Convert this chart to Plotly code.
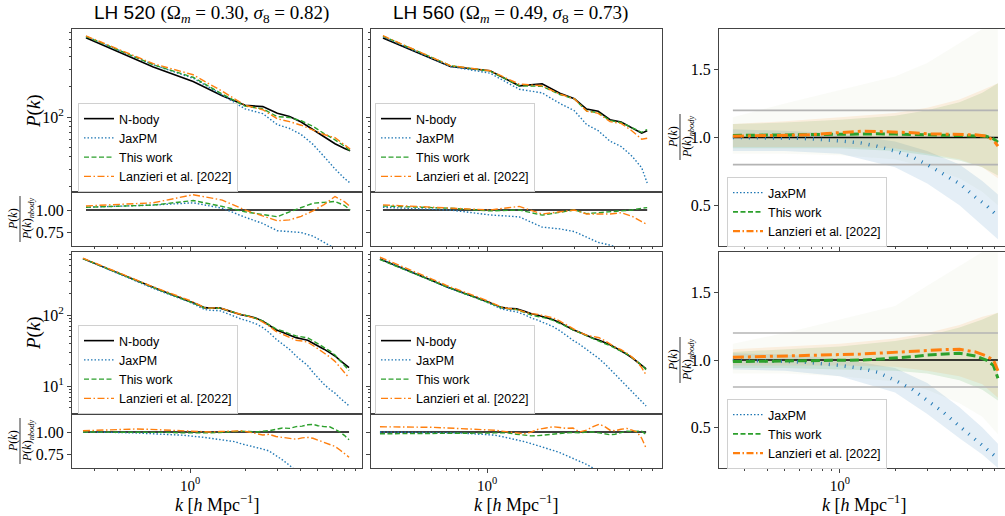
import plotly.graph_objects as go

# ---------------- data ----------------
# Top row: coarse binning
K_ROW1 = [0.27, 0.63, 1.04, 1.5, 2.0, 2.5, 3.0, 3.5, 4.05, 4.7, 5.4, 6.2, 7.0, 7.5]

P_NBODY_520_A = [620, 316, 226, 163, 131, 127, 109, 101, 89, 75, 63, 54, 48.5, 46]
R_JAXPM_520_A = [1.03, 1.055, 1.08, 1.02, 0.92, 0.85, 0.77, 0.76, 0.75, 0.71, 0.64, 0.56, 0.50, 0.476]
R_THIS_520_A = [1.03, 1.055, 1.105, 1.04, 0.98, 0.95, 0.925, 0.98, 1.03, 1.075, 1.085, 1.095, 1.05, 1.0]
R_LANZ_520_A = [1.045, 1.08, 1.17, 1.11, 1.0, 0.93, 0.88, 0.89, 0.93, 0.99, 1.06, 1.15, 1.09, 1.04]

P_NBODY_560_A = [615, 320, 290, 205, 215, 173, 152, 120, 114, 94, 89, 78, 69, 73]
R_JAXPM_560_A = [1.03, 1.0, 0.945, 0.924, 0.81, 0.79, 0.76, 0.70, 0.64, 0.61, 0.57, 0.52, 0.45, 0.30]
R_THIS_560_A = [1.045, 1.02, 0.99, 1.0, 0.943, 0.97, 1.0, 0.96, 0.97, 0.98, 0.99, 1.0, 1.02, 1.026]
R_LANZ_560_A = [1.057, 1.02, 1.0, 1.04, 0.955, 0.98, 1.0, 0.955, 0.955, 0.955, 0.97, 0.93, 0.87, 0.84]

# Bottom row: fine binning
K_ROW2 = [0.26, 0.32, 0.4, 0.5, 0.6, 0.7, 0.8, 0.9, 1.0, 1.1, 1.2, 1.3, 1.45, 1.6, 1.75, 1.9, 2.1,
          2.3, 2.5, 2.7, 2.95, 3.2, 3.5, 3.8, 4.1, 4.4, 4.7, 5.0, 5.4, 5.8, 6.2, 6.6, 7.0, 7.4]

P_NBODY_520_B = [622, 500, 393, 308, 253, 219, 193, 173, 158, 141, 127, 125, 126, 116, 106, 101, 96,
                 90, 82, 72, 62, 57, 52, 48, 46, 44, 40, 37, 33, 29.5, 26.5, 23, 20.5, 18.1]
R_JAXPM_520_B = [1.0, 1.0, 0.995, 0.99, 0.985, 0.978, 0.97, 0.965, 0.958, 0.95, 0.94, 0.93, 0.915, 0.903,
                 0.893, 0.87, 0.85, 0.83, 0.81, 0.79, 0.74, 0.69, 0.63, 0.55, 0.49, 0.44, 0.39, 0.35,
                 0.32, 0.305, 0.30, 0.295, 0.29, 0.29]
R_THIS_520_B = [1.0, 1.0, 1.0, 1.0, 1.0, 0.998, 0.995, 0.99, 0.988, 0.985, 0.988, 0.99, 0.995, 1.0,
                1.005, 1.01, 1.005, 1.0, 1.01, 1.014, 1.03, 1.045, 1.04, 1.06, 1.065, 1.08, 1.085, 1.07,
                1.06, 1.058, 1.03, 1.0, 0.96, 0.913]
R_LANZ_520_B = [1.014, 1.02, 1.028, 1.033, 1.03, 1.025, 1.02, 1.015, 1.012, 1.005, 1.0, 1.0, 1.005, 1.01,
                1.015, 1.014, 1.0, 0.985, 0.967, 0.975, 0.95, 0.94, 0.93, 0.92, 0.935, 0.94, 0.93, 0.91,
                0.885, 0.87, 0.84, 0.80, 0.76, 0.72]

P_NBODY_560_B = [615, 495, 390, 305, 250, 218, 193, 172, 155, 140, 128, 124, 122, 113, 104, 99, 93,
                 86, 78, 70, 62, 57, 51, 47, 44, 41, 38, 35, 31.5, 28, 25, 22, 19.5, 17.4]
R_JAXPM_560_B = [1.0, 1.0, 0.998, 0.995, 0.992, 0.99, 0.985, 0.98, 0.973, 0.965, 0.95, 0.935, 0.91, 0.893,
                 0.87, 0.85, 0.82, 0.795, 0.77, 0.74, 0.71, 0.68, 0.64, 0.60, 0.55, 0.50, 0.46, 0.42,
                 0.38, 0.35, 0.33, 0.32, 0.31, 0.30]
R_THIS_560_B = [0.98, 0.98, 0.98, 0.98, 0.98, 0.98, 0.982, 0.985, 0.988, 0.99, 0.99, 0.99, 0.975, 0.965,
                0.957, 0.96, 0.97, 0.975, 0.985, 0.99, 0.995, 0.99, 1.0, 1.0, 0.99, 0.98, 0.97, 0.975,
                0.99, 1.01, 1.005, 1.01, 1.01, 0.97]
R_LANZ_560_B = [1.058, 1.058, 1.055, 1.052, 1.045, 1.04, 1.035, 1.03, 1.025, 1.02, 1.01, 1.0, 0.985, 0.98,
                1.0, 1.03, 1.045, 1.058, 1.05, 1.04, 1.045, 1.0, 1.02, 1.06, 1.087, 1.06, 1.02, 1.014,
                1.03, 1.04, 1.02, 1.0, 0.93, 0.82]

# Right column: median ratio over the whole set
K_RIGHT = [0.26, 0.4, 0.55, 0.7, 0.85, 1.0, 1.3, 1.6, 2.0, 2.5, 3.0, 3.7, 4.5, 5.5, 6.3, 6.9, 7.3]
MED_JAXPM_TOP = [1.0, 1.0, 0.995, 0.99, 0.985, 0.975, 0.96, 0.935, 0.9, 0.855, 0.80, 0.73, 0.66, 0.56, 0.5, 0.45, 0.42]
MED_THIS_TOP = [1.015, 1.018, 1.02, 1.022, 1.025, 1.027, 1.027, 1.027, 1.025, 1.022, 1.02, 1.018, 1.015, 1.015, 1.01, 0.99, 0.966]
MED_LANZ_TOP = [1.01, 1.012, 1.015, 1.02, 1.03, 1.038, 1.046, 1.044, 1.04, 1.035, 1.027, 1.024, 1.02, 1.02, 1.01, 0.98, 0.937]
MED_JAXPM_BOT = [1.0, 0.995, 0.988, 0.98, 0.97, 0.96, 0.938, 0.91, 0.85, 0.78, 0.70, 0.61, 0.51, 0.41, 0.34, 0.30, 0.27]
MED_THIS_BOT = [0.988, 0.99, 0.993, 0.995, 0.995, 0.998, 1.0, 1.006, 1.013, 1.025, 1.037, 1.045, 1.05, 1.03, 1.0, 0.96, 0.864]
MED_LANZ_BOT = [1.02, 1.025, 1.03, 1.033, 1.036, 1.04, 1.044, 1.05, 1.058, 1.066, 1.074, 1.077, 1.079, 1.06, 1.03, 1.0, 0.92]

# Right column: spread of the individual simulations (envelopes)
K_BAND = [0.26, 0.5, 1.0, 2.0, 3.0, 4.5, 6.0, 7.3]
TOP_JAX_LO = [0.90, 0.90, 0.88, 0.78, 0.66, 0.50, 0.35, 0.25]
TOP_JAX_HI = [1.06, 1.05, 1.03, 0.97, 0.90, 0.80, 0.68, 0.58]
TOP_THIS_LO = [0.92, 0.92, 0.92, 0.90, 0.87, 0.83, 0.78, 0.72]
TOP_THIS_HI = [1.10, 1.11, 1.13, 1.16, 1.20, 1.26, 1.33, 1.40]
TOP_LANZ_LO = [0.93, 0.93, 0.93, 0.92, 0.88, 0.84, 0.78, 0.70]
TOP_LANZ_HI = [1.10, 1.12, 1.15, 1.18, 1.22, 1.28, 1.35, 1.40]
TOP_OUT_LO = [0.88, 0.88, 0.87, 0.84, 0.78, 0.70, 0.60, 0.50]
TOP_OUT_HI = [1.15, 1.25, 1.35, 1.45, 1.55, 1.70, 1.80, 1.80]
BOT_JAX_LO = [0.93, 0.92, 0.88, 0.76, 0.60, 0.42, 0.30, 0.20]
BOT_JAX_HI = [1.05, 1.04, 1.01, 0.94, 0.83, 0.65, 0.50, 0.38]
BOT_THIS_LO = [0.94, 0.94, 0.93, 0.92, 0.90, 0.85, 0.78, 0.70]
BOT_THIS_HI = [1.06, 1.08, 1.10, 1.14, 1.18, 1.24, 1.30, 1.35]
BOT_LANZ_LO = [0.96, 0.96, 0.96, 0.95, 0.92, 0.88, 0.82, 0.72]
BOT_LANZ_HI = [1.08, 1.10, 1.12, 1.16, 1.20, 1.26, 1.32, 1.35]
BOT_OUT_LO = [0.90, 0.90, 0.88, 0.84, 0.78, 0.68, 0.58, 0.45]
BOT_OUT_HI = [1.12, 1.20, 1.30, 1.40, 1.55, 1.70, 1.80, 1.80]

REF_LINES = [0.8, 1.2]

TITLES = ["LH 520", "LH 560"]
OMEGA_M = ["0.30", "0.49"]
SIGMA_8 = ["0.82", "0.73"]
NAMES = ["N-body", "JaxPM", "This work", "Lanzieri et al. [2022]"]

# ---------------- style ----------------
W, H = 1005, 516
C_NB, C_JAX, C_THIS, C_LANZ = "black", "#1f77b4", "#2ca02c", "#ff7f0e"
DOT, DASH, DASHDOT = "1.5px,2px", "5px,2.5px", "7px,2.5px,1.5px,2.5px"
SERIF = "Liberation Serif"
SANS = "Liberation Sans"
AX_COLOR = "#444444"


def fx(p):
    return p / W


def fy(p):
    return 1 - p / H


COLS = {1: (72, 362), 2: (371, 662), 3: (719, 1005)}
XRANGE = {1: [-0.645, 0.940], 2: [-0.634, 0.956], 3: [-0.661, 0.902]}
ROWS = {"m1": (29, 192), "r1": (192, 246), "m2": (252, 414), "r2": (414, 468),
        "R1": (29, 246), "R2": (252, 468)}

fig = go.Figure()
layout = {}

X_MINOR = [0.3, 0.4, 0.5, 0.6, 0.7, 0.8, 0.9, 2, 3, 4, 5, 6, 7, 8]
Y_MINOR_1 = [20, 30, 40, 50, 60, 70, 80, 90, 200, 300, 400, 500, 600, 700]
Y_MINOR_2 = [5, 6, 7, 8, 9, 20, 30, 40, 50, 60, 70, 80, 90, 200, 300, 400, 500, 600, 700]

tickfont = dict(family=SERIF, size=16, color="black")
xtickfont = dict(family=SERIF, size=15, color="black")


def add_axes(n, col, row, xlabels, xticks, ytype, yrange, ytickvals, yticktext, ylabels, yminor=None,
             ymirror=True):
    xa = dict(domain=[fx(COLS[col][0]), fx(min(COLS[col][1], W))], type="log", range=XRANGE[col],
              anchor="y%d" % n, showgrid=False, zeroline=False, showline=True, linecolor=AX_COLOR,
              linewidth=1, mirror=True, tickmode="array", tickvals=[1] if xticks else [],
              ticktext=["10<sup>0</sup>"], showticklabels=xlabels, ticks="outside" if xticks else "",
              ticklen=3.5, tickcolor=AX_COLOR, tickfont=xtickfont)
    if xticks:
        xa["minor"] = dict(tickvals=X_MINOR, ticks="outside", ticklen=2, tickcolor=AX_COLOR, showgrid=False)
    ya = dict(domain=[fy(ROWS[row][1]), fy(ROWS[row][0])], type=ytype, range=yrange, anchor="x%d" % n,
              showgrid=False, zeroline=False, showline=True, linecolor=AX_COLOR, linewidth=1,
              mirror=ymirror, tickmode="array", tickvals=ytickvals, ticktext=yticktext,
              showticklabels=ylabels, ticks="outside", ticklen=4, tickcolor=AX_COLOR, tickfont=tickfont)
    if yminor:
        ya["minor"] = dict(tickvals=yminor, ticks="outside", ticklen=2, tickcolor=AX_COLOR, showgrid=False)
    sfx = "" if n == 1 else str(n)
    layout["xaxis" + sfx] = xa
    layout["yaxis" + sfx] = ya


def xy(n):
    return ("x" if n == 1 else "x%d" % n), ("y" if n == 1 else "y%d" % n)


def line(x, y, n, color, width, dash=None, name=None, legend=None, show=False):
    xa, ya = xy(n)
    fig.add_trace(go.Scatter(x=x, y=y, xaxis=xa, yaxis=ya, mode="lines", name=name,
                             line=dict(color=color, width=width, dash=dash), showlegend=show,
                             legend=legend, hoverinfo="skip"))


def times(a, b):
    return [u * v for u, v in zip(a, b)]


# ---------------- left two columns ----------------
panels = [
    (1, "m1", "r1", K_ROW1, P_NBODY_520_A, R_JAXPM_520_A, R_THIS_520_A, R_LANZ_520_A, "legend"),
    (2, "m1", "r1", K_ROW1, P_NBODY_560_A, R_JAXPM_560_A, R_THIS_560_A, R_LANZ_560_A, "legend2"),
    (1, "m2", "r2", K_ROW2, P_NBODY_520_B, R_JAXPM_520_B, R_THIS_520_B, R_LANZ_520_B, "legend3"),
    (2, "m2", "r2", K_ROW2, P_NBODY_560_B, R_JAXPM_560_B, R_THIS_560_B, R_LANZ_560_B, "legend4"),
]
axis_id = 1
for col, mrow, rrow, k, pnb, rj, rt, rl, leg in panels:
    nm, nr = axis_id, axis_id + 1
    axis_id += 2
    ylab = col == 1
    if mrow == "m1":
        add_axes(nm, col, mrow, False, False, "log", [1.25, 2.88], [100], ["10<sup>2</sup>"], ylab, Y_MINOR_1)
    else:
        add_axes(nm, col, mrow, False, False, "log", [0.606, 2.887], [10, 100],
                 ["10<sup>1</sup>", "10<sup>2</sup>"], ylab, Y_MINOR_2)
    add_axes(nr, col, rrow, rrow == "r2", True, "linear", [0.6, 1.2], [0.75, 1.0], ["0.75", "1.00"], ylab)

    line(k, pnb, nm, C_NB, 1.6, None, NAMES[0], leg, True)
    line(k, times(pnb, rj), nm, C_JAX, 1.4, DOT, NAMES[1], leg, True)
    line(k, times(pnb, rt), nm, C_THIS, 1.4, DASH, NAMES[2], leg, True)
    line(k, times(pnb, rl), nm, C_LANZ, 1.4, DASHDOT, NAMES[3], leg, True)

    line([k[0], k[-1]], [1, 1], nr, C_NB, 1.6)
    line(k, rj, nr, C_JAX, 1.4, DOT)
    line(k, rt, nr, C_THIS, 1.4, DASH)
    line(k, rl, nr, C_LANZ, 1.4, DASHDOT)

# ---------------- right column ----------------
right = [
    (9, "R1", "legend5", MED_JAXPM_TOP, MED_THIS_TOP, MED_LANZ_TOP,
     [(TOP_OUT_LO, TOP_OUT_HI, "rgba(150,170,100,0.05)"), (TOP_JAX_LO, TOP_JAX_HI, "rgba(31,119,180,0.12)"),
      (TOP_THIS_LO, TOP_THIS_HI, "rgba(44,160,44,0.12)"), (TOP_LANZ_LO, TOP_LANZ_HI, "rgba(255,127,14,0.10)")]),
    (10, "R2", "legend6", MED_JAXPM_BOT, MED_THIS_BOT, MED_LANZ_BOT,
     [(BOT_OUT_LO, BOT_OUT_HI, "rgba(150,170,100,0.05)"), (BOT_JAX_LO, BOT_JAX_HI, "rgba(31,119,180,0.12)"),
      (BOT_THIS_LO, BOT_THIS_HI, "rgba(44,160,44,0.12)"), (BOT_LANZ_LO, BOT_LANZ_HI, "rgba(255,127,14,0.10)")]),
]
for n, row, leg, mj, mt, ml, bands in right:
    add_axes(n, 3, row, row == "R2", True, "linear", [0.2, 1.8], [0.5, 1.0, 1.5], ["0.5", "1.0", "1.5"],
             True, None, ymirror=False)
    xa, ya = xy(n)
    for lo, hi, col in bands:
        fig.add_trace(go.Scatter(x=K_BAND + K_BAND[::-1], y=hi + lo[::-1], xaxis=xa, yaxis=ya,
                                 mode="lines", fill="toself", fillcolor=col, line=dict(width=0),
                                 showlegend=False, hoverinfo="skip"))
    for v in REF_LINES:
        line([K_RIGHT[0], K_RIGHT[-1]], [v, v], n, "#b4b4b4", 1.6)
    line([K_RIGHT[0], K_RIGHT[-1]], [1, 1], n, C_NB, 1.6)
    line(K_RIGHT, mj, n, C_JAX, 3.5, "1px,7px")
    line(K_RIGHT, mt, n, C_THIS, 3, "9px,4px")
    line(K_RIGHT, ml, n, C_LANZ, 3, "11px,4px,3px,4px")
    # legend entries
    for nm_, c_, w_, d_ in [(NAMES[1], C_JAX, 1.4, DOT), (NAMES[2], C_THIS, 1.8, DASH),
                            (NAMES[3], C_LANZ, 2.2, DASHDOT)]:
        line([None], [None], n, c_, w_, d_, nm_, leg, True)

# ---------------- legends ----------------
leg_pos = {"legend": (78, 103), "legend2": (375, 103), "legend3": (78, 325), "legend4": (375, 325),
           "legend5": (727, 177), "legend6": (727, 399)}
for key, (px, py) in leg_pos.items():
    layout[key] = dict(x=fx(px), y=fy(py), xanchor="left", yanchor="top", bgcolor="rgba(255,255,255,0.85)",
                       bordercolor="#d0d0d0", borderwidth=1, font=dict(family=SANS, size=12.5, color="black"),
                       tracegroupgap=0, itemwidth=30)

# ---------------- annotations ----------------
ann = []
shapes = []


def text(x, y, s, font, angle=0):
    ann.append(dict(x=fx(x), y=fy(y), xref="paper", yref="paper", showarrow=False, text=s, font=font,
                    textangle=angle, xanchor="center", yanchor="middle"))


for i, cx in enumerate([211, 510]):
    text(cx, 14, "%s <span style=\"font-family:%s\">(Ω<sub><i>m</i></sub> = %s, <i>σ</i><sub>8</sub> = %s)</span>"
         % (TITLES[i], SERIF, OMEGA_M[i], SIGMA_8[i]), dict(family=SANS, size=19, color="black"))
for cy in [111, 333]:
    text(34, cy, "<i>P</i>(<i>k</i>)", dict(family=SERIF, size=19, color="black"), -90)


def fraction(xc, yc):
    text(xc - 7, yc, "<i>P</i>(<i>k</i>)", dict(family=SERIF, size=12, color="black"), -90)
    text(xc + 8, yc, "<i>P</i>(<i>k</i>)<sub><i>nbody</i></sub>", dict(family=SERIF, size=12, color="black"), -90)
    shapes.append(dict(type="line", xref="paper", yref="paper", x0=fx(xc), x1=fx(xc),
                       y0=fy(yc - 23), y1=fy(yc + 23), line=dict(color="black", width=0.8)))


fraction(20, 219)
fraction(20, 441)
fraction(680, 137)
fraction(680, 360)

for cx in [217, 516, 864]:
    text(cx, 503, "<i>k</i> [<i>h</i> Mpc<sup>−1</sup>]", dict(family=SERIF, size=18, color="black"))

fig.update_layout(**layout)
fig.update_layout(width=W, height=H, margin=dict(l=0, r=0, t=0, b=0), paper_bgcolor="white",
                  plot_bgcolor="white", annotations=ann, shapes=shapes, showlegend=True)
fig.write_html("out.html", config={"displayModeBar": False},
               post_script="document.body.style.margin='0';document.body.style.padding='0';")
